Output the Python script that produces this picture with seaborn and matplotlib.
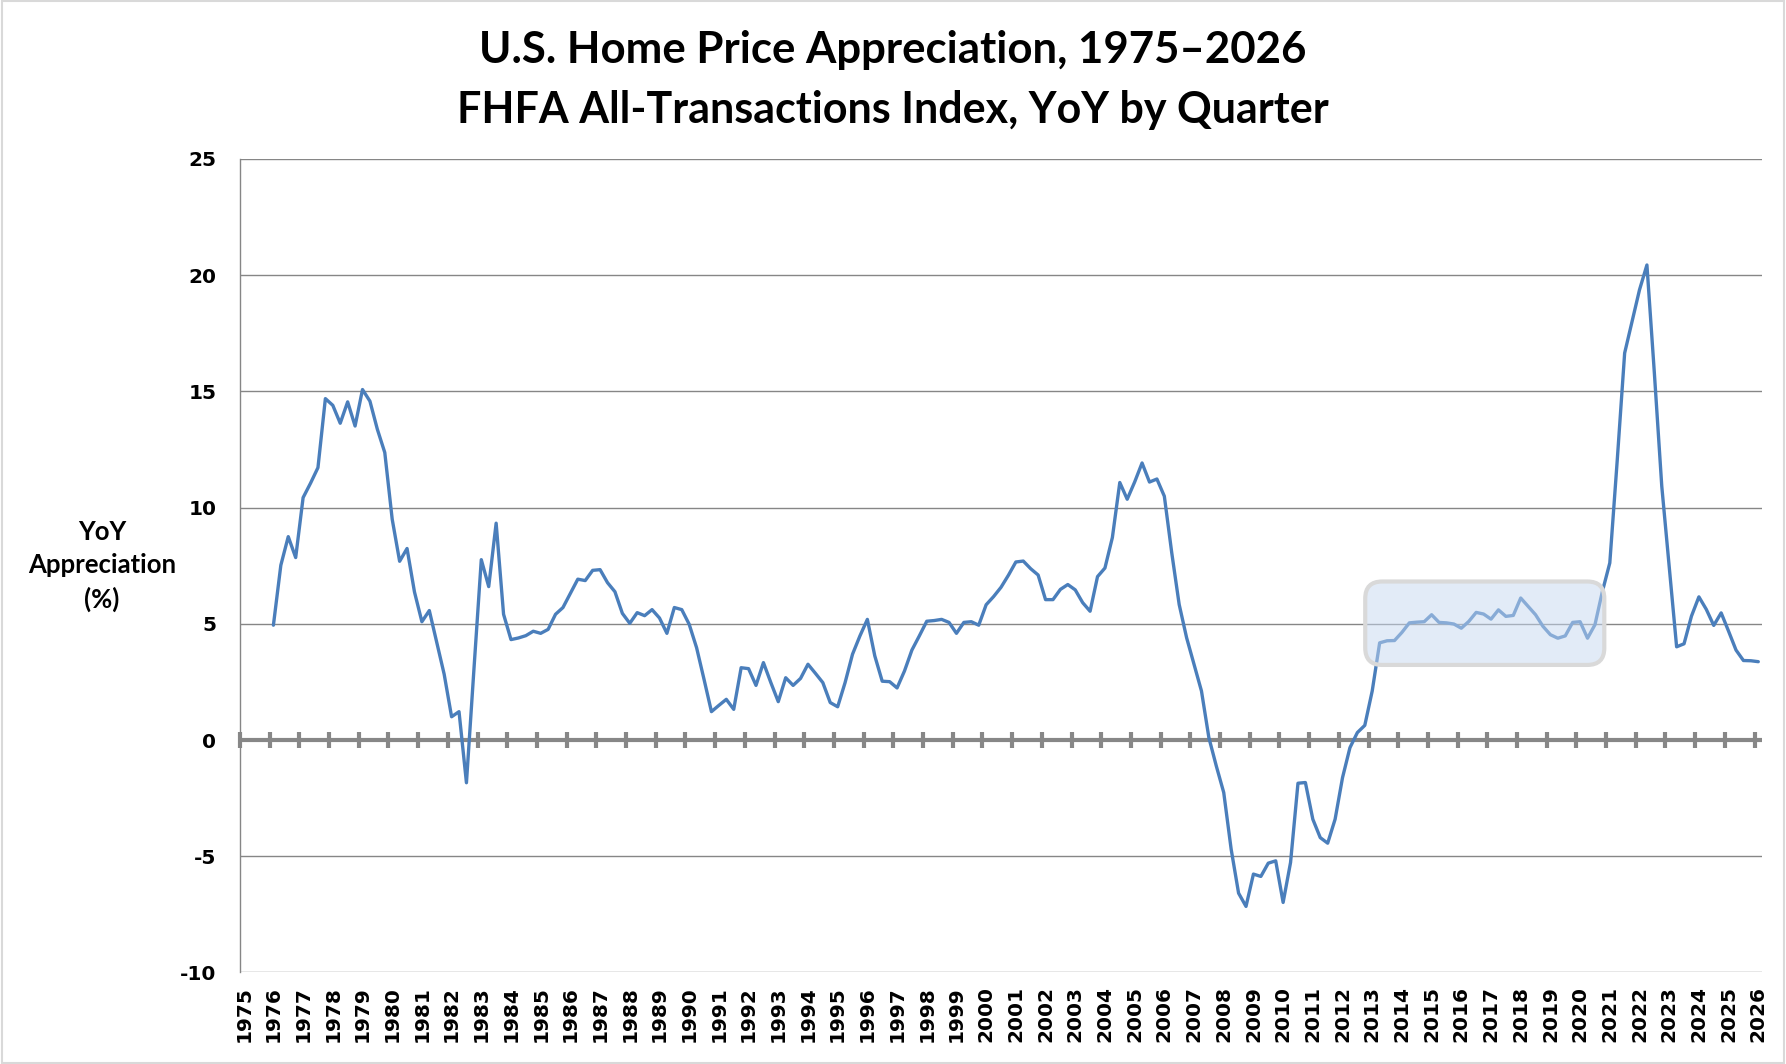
import numpy as np
import pandas as pd
import seaborn as sns
import matplotlib.pyplot as plt
from matplotlib.patches import FancyBboxPatch, Rectangle

sns.set_style("white")
plt.rcParams['font.family'] = ['DejaVu Sans']
plt.rcParams['text.color'] = 'black'
plt.rcParams['xtick.color'] = 'black'
plt.rcParams['ytick.color'] = 'black'

# YoY % change by quarter, 1976Q1 .. 2026Q1
years = list(range(1976, 2027))
yoy = [
    4.94, 7.52, 8.75, 7.85,        # 1976
    10.43, 11.05, 11.72, 14.69,    # 1977
    14.40, 13.63, 14.55, 13.51,    # 1978
    15.08, 14.58, 13.37, 12.37,    # 1979
    9.50, 7.69, 8.24, 6.37,        # 1980
    5.09, 5.57, 4.19, 2.83,        # 1981
    1.00, 1.22, -1.84, 3.00,       # 1982
    7.76, 6.60, 9.33, 5.41,        # 1983
    4.32, 4.39, 4.49, 4.68,        # 1984
    4.59, 4.76, 5.41, 5.70,        # 1985
    6.31, 6.92, 6.86, 7.30,        # 1986
    7.33, 6.77, 6.38, 5.45,        # 1987
    5.02, 5.48, 5.35, 5.61,        # 1988
    5.25, 4.59, 5.70, 5.61,        # 1989
    4.98, 3.97, 2.61, 1.22,        # 1990
    1.49, 1.75, 1.32, 3.11,        # 1991
    3.07, 2.35, 3.33, 2.47,        # 1992
    1.65, 2.68, 2.35, 2.65,        # 1993
    3.26, 2.87, 2.47, 1.61,        # 1994
    1.43, 2.47, 3.69, 4.48,        # 1995
    5.19, 3.62, 2.53, 2.51,        # 1996
    2.24, 2.97, 3.87, 4.48,        # 1997
    5.11, 5.14, 5.19, 5.06,        # 1998
    4.59, 5.06, 5.09, 4.94,        # 1999
    5.82, 6.17, 6.57, 7.09,        # 2000
    7.66, 7.70, 7.37, 7.10,        # 2001
    6.04, 6.04, 6.48, 6.69,        # 2002
    6.46, 5.91, 5.54, 7.03,        # 2003
    7.40, 8.71, 11.08, 10.36,      # 2004
    11.10, 11.92, 11.10, 11.23,    # 2005
    10.49, 8.05, 5.83, 4.40,       # 2006
    3.25, 2.11, 0.10, -1.12,       # 2007
    -2.26, -4.70, -6.59, -7.16,    # 2008
    -5.77, -5.87, -5.30, -5.20,    # 2009
    -6.99, -5.27, -1.86, -1.83,    # 2010
    -3.41, -4.20, -4.44, -3.41,    # 2011
    -1.62, -0.33, 0.32, 0.63,      # 2012
    2.11, 4.18, 4.27, 4.28,        # 2013
    4.63, 5.04, 5.07, 5.09,        # 2014
    5.39, 5.06, 5.04, 4.99,        # 2015
    4.81, 5.10, 5.49, 5.42,        # 2016
    5.20, 5.60, 5.32, 5.36,        # 2017
    6.11, 5.75, 5.39, 4.89,        # 2018
    4.53, 4.38, 4.48, 5.06,        # 2019
    5.09, 4.38, 4.96, 6.39,        # 2020
    7.62, 12.03, 16.65, 18.01,     # 2021
    19.37, 20.44, 15.80, 10.92,    # 2022
    7.48, 4.01, 4.14, 5.33,        # 2023
    6.16, 5.62, 4.93, 5.47,        # 2024
    4.68, 3.87, 3.42, 3.41,        # 2025
    3.37,                          # 2026
]
tick_years = list(range(1975, 2027))
y_ticks = [-10, -5, 0, 5, 10, 15, 20, 25]

# highlighted stretch (2013-2020)
box_x = (2012.89, 2020.94)
box_y = (3.23, 6.82)

quarters = [(y, q) for y in years for q in range(1, 5)][:len(yoy)]
df = pd.DataFrame(quarters, columns=['year', 'quarter'])
df['yoy'] = yoy
df['t'] = df['year'] + (df['quarter'] - 0.5) / 4

fig = plt.figure(figsize=(17.86, 10.64), dpi=100)
ax = fig.add_axes([240 / 1786, 1 - 972.4 / 1064, 1522 / 1786, 813.4 / 1064])

grid_c = '#868686'
for v in y_ticks:
    if v != 0:
        ax.axhline(v, color=grid_c, linewidth=1.0, zorder=1)

sns.lineplot(data=df, x='t', y='yoy', color='#4A7EBB', linewidth=2.4, ax=ax, zorder=3)

# zero line with crossing tick marks
ax.axhline(0, color='#878787', linewidth=3.0, zorder=2)
ax.plot(tick_years, [0] * len(tick_years), linestyle='none', marker='|',
        markersize=11, markeredgewidth=3.0, color='#878787', zorder=2,
        clip_on=False)

box = FancyBboxPatch((box_x[0], box_y[0]), box_x[1] - box_x[0], box_y[1] - box_y[0],
                     boxstyle="round,pad=0,rounding_size=0.57", mutation_aspect=1.28,
                     facecolor=(0.776, 0.851, 0.945, 0.5), edgecolor='#d9d9d9',
                     linewidth=3.0, zorder=4)
ax.add_patch(box)

ax.set_xlim(1975, 2026.25)
ax.set_ylim(-10, 25)
ax.set_xticks([y + 0.125 for y in tick_years])
ax.set_xticklabels([str(y) for y in tick_years], rotation=90, fontsize=14.5,
                   fontweight='bold')
ax.set_yticks(y_ticks)
ax.set_yticklabels([str(v) for v in y_ticks], fontsize=14.5, fontweight='bold')
ax.tick_params(axis='x', length=0, pad=10)
ax.tick_params(axis='y', length=0, pad=17)
ax.set_xlabel('')
ax.set_ylabel('')

for s in ['top', 'right', 'bottom']:
    ax.spines[s].set_visible(False)
ax.spines['left'].set_color(grid_c)
ax.spines['left'].set_linewidth(1.0)

title_font = dict(family=['Lato', 'DejaVu Sans'], fontweight='bold', ha='center',
                  color='black')
fig.text(0.5, 1 - 63 / 1064, 'U.S. Home Price Appreciation, 1975–2026',
         fontsize=31.5, va='baseline', **title_font)
fig.text(0.5, 1 - 123 / 1064, 'FHFA All-Transactions Index, YoY by Quarter',
         fontsize=31, va='baseline', **title_font)
fig.text(102 / 1786, 1 - 566 / 1064, 'YoY\nAppreciation\n(%)', fontsize=18.5,
         va='center', linespacing=1.45, **title_font)

fig.patches.append(Rectangle((0.001, 0.001), 0.998, 0.998, transform=fig.transFigure,
                             fill=False, edgecolor='#d9d9d9', linewidth=1.5))

plt.savefig('out.png', dpi=100)
